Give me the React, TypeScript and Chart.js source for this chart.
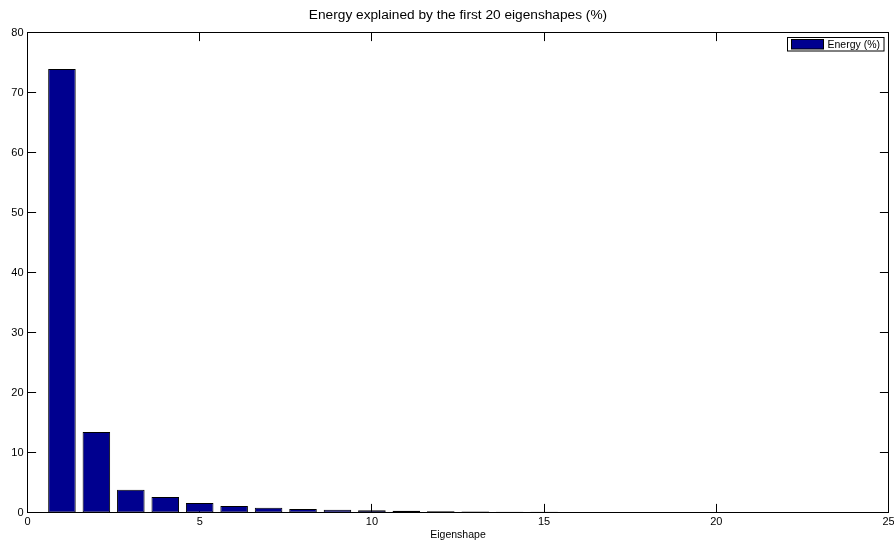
import React, { useEffect, useRef } from "react";
import { Chart, registerables } from "chart.js";

Chart.register(...registerables);

const eigenshapes = [1, 2, 3, 4, 5, 6, 7, 8, 9, 10, 11, 12, 13, 14, 15, 16, 17, 18, 19, 20];
const energy = [73.9, 13.4, 3.8, 2.6, 1.6, 1.1, 0.8, 0.6, 0.45, 0.38, 0.3, 0.22, 0.18, 0.14, 0.12, 0.1, 0.08, 0.07, 0.05, 0.04];
const titleText = "Energy explained by the first 20 eigenshapes (%)";
const xLabel = "Eigenshape";
const seriesLabel = "Energy (%)";

const FONT = "'Liberation Sans', Arial, Helvetica, sans-serif";
const BAR_COLOR = "rgb(0,0,143)";

const framePlugin = {
  id: "frame",
  beforeDatasetsDraw(chart: any) {
    const { ctx, chartArea: a, scales } = chart;
    const xs = scales.x;
    const ys = scales.y;
    const L = 8.6;
    ctx.save();
    ctx.strokeStyle = "#000";
    ctx.lineWidth = 1;
    ctx.beginPath();
    xs.ticks.forEach((t: any) => {
      const px = Math.round(xs.getPixelForValue(t.value) - 0.5) + 0.5;
      ctx.moveTo(px, a.bottom);
      ctx.lineTo(px, a.bottom - L);
      ctx.moveTo(px, a.top);
      ctx.lineTo(px, a.top + L);
    });
    ys.ticks.forEach((t: any) => {
      const py = Math.round(ys.getPixelForValue(t.value) - 0.5) + 0.5;
      ctx.moveTo(a.left, py);
      ctx.lineTo(a.left + L, py);
      ctx.moveTo(a.right, py);
      ctx.lineTo(a.right - L, py);
    });
    ctx.stroke();
    ctx.strokeRect(a.left, a.top, a.right - a.left, a.bottom - a.top);
    ctx.restore();
  },
  afterDraw(chart: any) {
    const { ctx, chartArea: a } = chart;
    const label = chart.data.datasets[0].label as string;
    ctx.save();
    ctx.font = `10.5px ${FONT}`;
    const tw = ctx.measureText(label).width;
    const boxW = 4 + 32 + 4 + tw + 4;
    const boxH = 13.5;
    const bx = Math.round(a.right - 4.5 - boxW) + 0.5;
    const by = a.top + 5;
    ctx.fillStyle = "#fff";
    ctx.fillRect(bx, by, boxW, boxH);
    ctx.strokeStyle = "#000";
    ctx.lineWidth = 1;
    ctx.strokeRect(bx, by, boxW, boxH);
    ctx.fillStyle = BAR_COLOR;
    ctx.fillRect(bx + 4, by + 2, 32, 9.5);
    ctx.strokeRect(bx + 4, by + 2, 32, 9.5);
    ctx.fillStyle = "#000";
    ctx.textBaseline = "middle";
    ctx.textAlign = "left";
    ctx.fillText(label, bx + 40, by + boxH / 2 + 0.5);
    ctx.restore();
  },
};

export default function App() {
  const ref = useRef<HTMLCanvasElement | null>(null);

  useEffect(() => {
    if (!ref.current) return;
    const chart = new Chart(ref.current, {
      type: "bar",
      data: {
        datasets: [
          {
            label: seriesLabel,
            data: eigenshapes.map((e, i) => ({ x: e, y: energy[i] })),
            backgroundColor: BAR_COLOR,
            borderColor: "#000",
            borderWidth: 1,
            borderSkipped: false,
            categoryPercentage: 1,
            barPercentage: 0.8,
          },
        ],
      },
      options: {
        responsive: false,
        animation: false,
        devicePixelRatio: 1,
        layout: { padding: { left: 0, right: 5.5, top: 0, bottom: 0 } },
        plugins: {
          legend: { display: false },
          tooltip: { enabled: false },
          title: { display: false },
        },
        scales: {
          x: {
            type: "linear",
            position: "bottom",
            min: 0,
            max: 25,
            offset: false,
            ticks: {
              stepSize: 5,
              color: "#000",
              font: { family: FONT, size: 11 },
              padding: 3,
              maxRotation: 0,
              autoSkip: false,
            },
            grid: { display: false, drawTicks: false },
            border: { display: false },
            title: {
              display: true,
              text: xLabel,
              color: "#000",
              font: { family: FONT, size: 10.5 },
              padding: { top: 0, bottom: 0 },
            },
            afterFit(scale: any) {
              scale.height = 28.5;
              scale.paddingLeft = 0;
              scale.paddingRight = 0;
            },
          },
          x2: {
            type: "linear",
            position: "top",
            display: true,
            ticks: { display: false },
            grid: { display: false, drawTicks: false },
            border: { display: false },
            title: {
              display: true,
              text: titleText,
              color: "#000",
              font: { family: FONT, size: 13.7 },
              padding: { top: 7, bottom: 0 },
            },
            afterFit(scale: any) {
              scale.height = 32.5;
              scale.paddingLeft = 0;
              scale.paddingRight = 0;
            },
          },
          y: {
            type: "linear",
            min: 0,
            max: 80,
            ticks: {
              stepSize: 10,
              color: "#000",
              font: { family: FONT, size: 11 },
              padding: 4,
            },
            grid: { display: false, drawTicks: false },
            border: { display: false },
            afterFit(scale: any) {
              scale.width = 27.5;
              scale.paddingTop = 0;
              scale.paddingBottom = 0;
            },
          },
        },
      },
      plugins: [framePlugin],
    });
    return () => chart.destroy();
  }, []);

  return (
    <div style={{ position: "absolute", left: 0, top: 0, width: 894, height: 541, background: "#fff" }}>
      <canvas ref={ref} width={894} height={541} style={{ display: "block" }} />
    </div>
  );
}
